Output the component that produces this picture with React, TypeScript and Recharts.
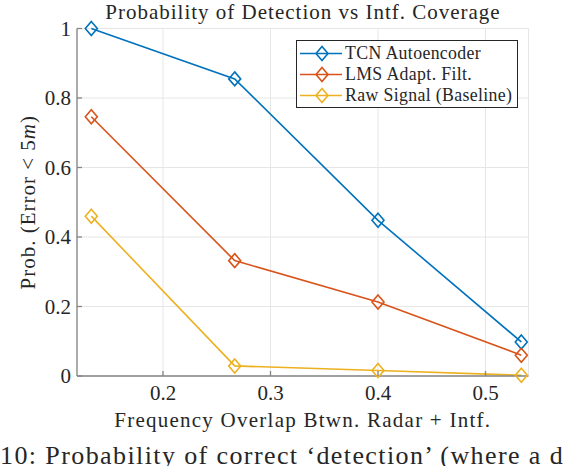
import React from "react";
import { CartesianGrid, Label, Legend, Line, LineChart, XAxis, YAxis } from "recharts";

// frequency overlap fraction (x) and detection probability per method
const overlap = [0.1333, 0.2667, 0.4, 0.5333];
const tcnProb = [1.0, 0.855, 0.448, 0.098];
const lmsProb = [0.746, 0.332, 0.213, 0.06];
const rawProb = [0.46, 0.029, 0.016, 0.002];

const xTicks = [0.2, 0.3, 0.4, 0.5];
const yTicks = [0, 0.2, 0.4, 0.6, 0.8, 1];

const SERIES = [
  { key: "tcn", name: "TCN Autoencoder", color: "#0072BD" },
  { key: "lms", name: "LMS Adapt. Filt.", color: "#D95319" },
  { key: "raw", name: "Raw Signal (Baseline)", color: "#EDB120" },
];

const data = overlap.map((x, i) => ({
  x,
  tcn: tcnProb[i],
  lms: lmsProb[i],
  raw: rawProb[i],
}));

const FONT = "'Liberation Serif', 'DejaVu Serif', serif";
const AXIS = "#858585";
const TEXT = "#262626";

function Diamond(props: any) {
  const { cx, cy, stroke } = props;
  if (cx == null || cy == null) return null;
  const w = 6;
  const h = 7;
  return (
    <polygon
      points={`${cx},${cy - h} ${cx + w},${cy} ${cx},${cy + h} ${cx - w},${cy}`}
      fill="none"
      stroke={stroke}
      strokeWidth={1.6}
    />
  );
}

// legend drawn in series order (recharts sorts the payload otherwise)
function LegendBox() {
  return (
    <div
      style={{
        width: 222,
        height: 68,
        border: "1.3px solid #262626",
        background: "#fff",
        boxSizing: "border-box",
        paddingTop: 2,
        fontFamily: FONT,
        fontSize: 17.8,
        letterSpacing: 0.35,
        color: TEXT,
      }}
    >
      {SERIES.map((s) => (
        <div key={s.key} style={{ height: 21, display: "flex", alignItems: "center" }}>
          <svg width={48} height={21} style={{ flex: "none" }}>
            <line x1={3} y1={10.5} x2={45} y2={10.5} stroke={s.color} strokeWidth={1.6} />
            <Diamond cx={25} cy={10.5} stroke={s.color} />
          </svg>
          <span style={{ whiteSpace: "nowrap", lineHeight: "21px" }}>{s.name}</span>
        </div>
      ))}
    </div>
  );
}

function YLabel(props: any) {
  const { viewBox } = props;
  const cx = 27.5;
  const cy = viewBox.y + viewBox.height / 2;
  return (
    <text
      x={cx}
      y={cy}
      transform={`rotate(-90, ${cx}, ${cy})`}
      textAnchor="middle"
      dy="0.35em"
      fontFamily={FONT}
      fontSize={21}
      letterSpacing={1}
      fill={TEXT}
    >
      Prob. (Error &lt; 5<tspan fontStyle="italic">m</tspan>)
    </text>
  );
}

export default function App() {
  const tickStyle = { fill: TEXT, fontSize: 21, fontFamily: FONT };
  const lineStyle = { stroke: AXIS, strokeWidth: 1.3 };
  return (
    <div
      style={{
        position: "absolute",
        left: 0,
        top: 0,
        width: 564,
        height: 466,
        overflow: "hidden",
        background: "#fff",
      }}
    >
      <div
        style={{
          position: "absolute",
          left: 77,
          width: 452,
          top: 1,
          textAlign: "center",
          fontFamily: FONT,
          fontSize: 21,
          letterSpacing: 1,
          lineHeight: "22px",
          color: TEXT,
          whiteSpace: "nowrap",
        }}
      >
        Probability of Detection vs Intf. Coverage
      </div>
      <LineChart
        width={564}
        height={466}
        data={data}
        margin={{ top: 28.5, right: 35.5, bottom: 60, left: 37 }}
      >
        <CartesianGrid stroke="#e6e6e6" strokeWidth={1} />
        <XAxis
          dataKey="x"
          type="number"
          domain={[0.12, 0.54]}
          ticks={xTicks}
          tickFormatter={(v: number) => String(v)}
          height={30}
          tickSize={-5}
          tickMargin={14}
          axisLine={lineStyle}
          tickLine={lineStyle}
          tick={tickStyle}
          allowDataOverflow
        >
          <Label
            value="Frequency Overlap Btwn. Radar + Intf."
            position="bottom"
            offset={6}
            style={{ fill: TEXT, fontSize: 21, fontFamily: FONT, letterSpacing: 1.25 }}
          />
        </XAxis>
        <XAxis
          xAxisId="top"
          dataKey="x"
          type="number"
          orientation="top"
          domain={[0.12, 0.54]}
          ticks={xTicks}
          height={0}
          tickSize={-5}
          tick={false}
          axisLine={lineStyle}
          tickLine={lineStyle}
          allowDataOverflow
        />
        <YAxis
          type="number"
          domain={[0, 1]}
          ticks={yTicks}
          tickFormatter={(v: number) => String(v)}
          width={40}
          tickSize={-5}
          tickMargin={11}
          axisLine={lineStyle}
          tickLine={lineStyle}
          tick={tickStyle}
        >
          <Label content={<YLabel />} />
        </YAxis>
        <YAxis
          yAxisId="right"
          orientation="right"
          type="number"
          domain={[0, 1]}
          ticks={yTicks}
          width={0}
          tickSize={-5}
          tick={false}
          axisLine={lineStyle}
          tickLine={lineStyle}
        />
        <Legend
          layout="horizontal"
          verticalAlign="middle"
          align="center"
          content={<LegendBox />}
          wrapperStyle={{ position: "absolute", left: 296, top: 39.5, width: 222, height: 68 }}
        />
        {SERIES.map((s) => (
          <Line
            key={s.key}
            dataKey={s.key}
            name={s.name}
            stroke={s.color}
            strokeWidth={1.6}
            dot={(p: any) => <Diamond key={`${s.key}-${p.index}`} {...p} stroke={s.color} />}
            activeDot={false}
            isAnimationActive={false}
          />
        ))}
      </LineChart>
      <div
        style={{
          position: "absolute",
          left: 0,
          top: 443.4,
          fontFamily: FONT,
          fontSize: 26,
          letterSpacing: 1.4,
          lineHeight: 1,
          color: TEXT,
          whiteSpace: "nowrap",
        }}
      >
        10: Probability of correct ‘detection’ (where a detection is within 5 m)
      </div>
    </div>
  );
}
